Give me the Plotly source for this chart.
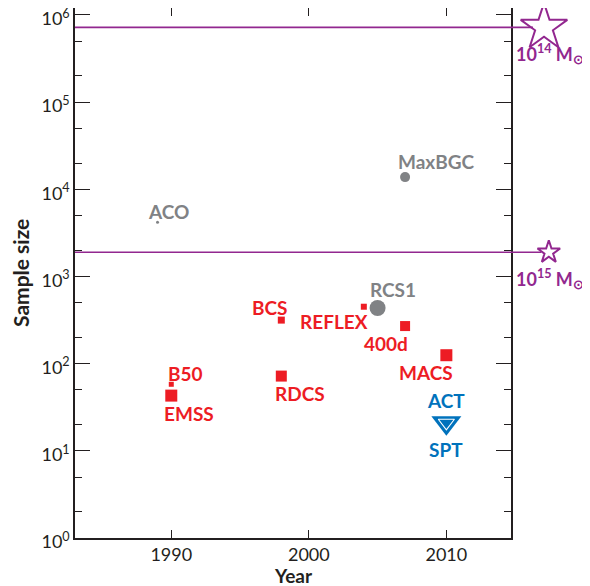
import math
import plotly.graph_objects as go

# ---- data ----
red_names = ["EMSS", "B50", "RDCS", "BCS", "REFLEX", "400d", "MACS"]
red_years = [1990, 1990, 1998, 1998, 2004, 2007, 2010]
red_sizes = [43, 58, 72, 316, 450, 270, 125]
red_msize = [12, 5, 11, 7, 6, 10, 12]

gray_names = ["ACO", "MaxBGC", "RCS1"]
gray_years = [1989, 2007, 2005]
gray_sizes = [4200, 13800, 435]
gray_msize = [3, 10, 16]

blue_names = ["ACT", "SPT"]
blue_year = [2010]
blue_size = [21]

mass_labels = ["14", "15"]
mass_limits = [7.2e5, 1900]
star_x = [2017.1, 2017.45]
line_end_x = [2016.3, 2016.9]

RED = "#ED1C24"
GRAY = "#808285"
BLUE = "#0072BC"
PURPLE = "#92278F"
AX = "#231F20"
FONT = "Lato"

X0, X1 = 1983, 2014.7           # main axis range
PX_PER_YEAR = 436 / (X1 - X0)
X2_END = X0 + 515 / PX_PER_YEAR  # extended invisible axis covering right margin

fig = go.Figure()

fig.add_trace(go.Scatter(x=red_years, y=red_sizes, mode="markers",
                         marker=dict(symbol="square", color=RED, size=red_msize, opacity=1,
                                     line=dict(width=0)),
                         showlegend=False, hoverinfo="skip"))
fig.add_trace(go.Scatter(x=gray_years, y=gray_sizes, mode="markers",
                         marker=dict(symbol="circle", color=GRAY, size=gray_msize, opacity=1,
                                     line=dict(width=0)),
                         showlegend=False, hoverinfo="skip"))
fig.add_trace(go.Scatter(x=blue_year, y=blue_size, mode="markers",
                         marker=dict(symbol="triangle-down", color=BLUE, size=26, opacity=1,
                                     line=dict(width=0)),
                         showlegend=False, hoverinfo="skip"))
fig.add_trace(go.Scatter(x=blue_year, y=blue_size, mode="markers",
                         marker=dict(symbol="triangle-down-open", color="white", size=14, opacity=1,
                                     line=dict(width=1.1, color="white")),
                         showlegend=False, hoverinfo="skip"))

# horizontal mass limit lines extending beyond the frame
for yv, xe in zip(mass_limits, line_end_x):
    fig.add_trace(go.Scatter(x=[X0, xe], y=[yv, yv], mode="lines", xaxis="x2", yaxis="y",
                             line=dict(color=PURPLE, width=1.6),
                             showlegend=False, hoverinfo="skip"))

# stars
fig.add_trace(go.Scatter(x=star_x, y=mass_limits, mode="markers", xaxis="x2", yaxis="y",
                         marker=dict(symbol="star-open", color=PURPLE, size=[35, 17], opacity=1,
                                     line=dict(width=2, color=PURPLE)),
                         cliponaxis=False, showlegend=False, hoverinfo="skip"))

# star labels
for lab, yv in zip(mass_labels, mass_limits):
    fig.add_annotation(x=1, xref="paper", y=math.log10(yv), yref="y", yshift=-27, xshift=-4,
                       xanchor="right", yanchor="middle", showarrow=False,
                       text="10<sup>%s</sup> M<sub>⊙</sub>" % lab,
                       font=dict(family=FONT, size=18, color=PURPLE, weight="bold"))


def label(x, y, text, color, dx, dy, weight="bold"):
    fig.add_annotation(x=x, y=math.log10(y), yref="y", xref="x", text=text, showarrow=False,
                       xshift=dx, yshift=dy, xanchor="center", yanchor="middle",
                       font=dict(family=FONT, size=19, color=color, weight=weight))


red_offsets = {"EMSS": (18, -18), "B50": (14, 11), "RDCS": (19, -17), "BCS": (-11, 13),
               "REFLEX": (-30, -15), "400d": (-19, -17), "MACS": (-20, -17)}
for n, xv, yv in zip(red_names, red_years, red_sizes):
    dx, dy = red_offsets[n]
    label(xv, yv, n, RED, dx, dy)
gray_offsets = {"ACO": (11, 11), "MaxBGC": (31, 16), "RCS1": (15, 19)}
for n, xv, yv in zip(gray_names, gray_years, gray_sizes):
    dx, dy = gray_offsets[n]
    label(xv, yv, n, GRAY, dx, dy)
label(blue_year[0], blue_size[0], blue_names[0], BLUE, 0, 22)
label(blue_year[0], blue_size[0], blue_names[1], BLUE, 0, -27)

# axis titles
fig.add_annotation(x=0.5, xref="x domain", y=0, yref="y domain", yshift=-37,
                   xanchor="center", yanchor="middle", showarrow=False,
                   text="<b>Year</b>", font=dict(family=FONT, size=19, color=AX))
fig.add_annotation(x=0, xref="x domain", y=0.5, yref="y domain", xshift=-55,
                   xanchor="center", yanchor="middle", showarrow=False, textangle=-90,
                   text="<b>Sample size</b>", font=dict(family=FONT, size=21, color=AX))

tickvals_y = [10 ** k for k in range(7)]
ticktext_y = ["10<sup>%d</sup>" % k for k in range(7)]

# page body has an 8px margin: the figure is sized/offset so the frame lands where it should
fig.update_layout(
    width=582, height=578,
    margin=dict(l=67, r=0, t=0, b=48, autoexpand=False),
    plot_bgcolor="rgba(0,0,0,0)", paper_bgcolor="white",
    font=dict(family=FONT, size=18, color=AX),
    xaxis=dict(range=[X0, X1], domain=[0, 436 / 515], tickvals=[1990, 2000, 2010],
               ticks="inside", ticklen=8, tickwidth=1.3, tickcolor=AX,
               showline=True, linecolor=AX, linewidth=1.5, mirror="ticks",
               showgrid=False, zeroline=False, automargin=False,
               ticklabeloverflow="allow", tickfont=dict(size=18)),
    xaxis2=dict(range=[X0, X2_END], domain=[0, 1], anchor="y", visible=False,
                showgrid=False, zeroline=False, automargin=False),
    yaxis=dict(type="log", range=[0, 6.08], tickvals=tickvals_y, ticktext=ticktext_y,
               ticks="inside", ticklen=15, tickwidth=1.3, tickcolor=AX,
               minor=dict(ticks="inside", ticklen=7, tickwidth=1, tickcolor=AX),
               showline=True, linecolor=AX, linewidth=1.5, mirror="ticks",
               showgrid=False, zeroline=False, automargin=False,
               ticklabeloverflow="allow", ticklabelshift=4, tickfont=dict(size=18)),
)

fig.write_html("out.html")
